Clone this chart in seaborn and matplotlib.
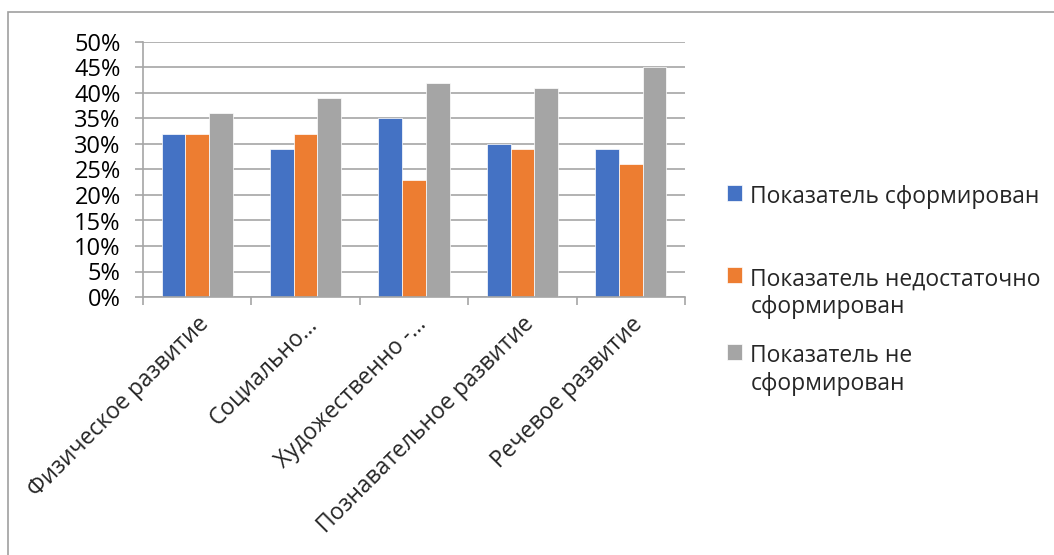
import textwrap
import pandas as pd
import matplotlib
matplotlib.use("Agg")
import matplotlib.pyplot as plt
import matplotlib.patches as mpatches
from matplotlib.ticker import PercentFormatter, MultipleLocator, FixedLocator
import seaborn as sns

# DATA
categories = ["Физическое развитие", "Социально…", "Художественно -…",
              "Познавательное развитие", "Речевое развитие"]
series = ["Показатель сформирован",
          "Показатель недостаточно сформирован",
          "Показатель не сформирован"]
formed = [32, 29, 35, 30, 29]
not_enough = [32, 32, 23, 29, 26]
not_formed = [36, 39, 42, 41, 45]

colors = ["#4472C4", "#ED7D31", "#A5A5A5"]
grid_gray = "#A6A6A6"

df = pd.DataFrame({
    "category": categories * 3,
    "series": [series[0]] * 5 + [series[1]] * 5 + [series[2]] * 5,
    "value": formed + not_enough + not_formed,
})

# STYLE & FONT
sns.set_style("white")
plt.rcParams["font.family"] = ["Open Sans", "DejaVu Sans"]
fs = 16.5

fig = plt.figure(figsize=(10.54, 5.55), dpi=100)
ax = fig.add_axes([143 / 1054, 1 - 297 / 555, (685 - 143) / 1054, (297 - 42) / 555])

sns.barplot(data=df, x="category", y="value", hue="series", palette=colors,
            saturation=1, width=0.655, edgecolor="white", linewidth=0.5, ax=ax)

ax.set_ylim(0, 50)
ax.set_xlim(-0.5, len(categories) - 0.5)
ax.yaxis.set_major_locator(MultipleLocator(5))
ax.yaxis.set_major_formatter(PercentFormatter(decimals=0))
ax.grid(axis="y", color=grid_gray, linewidth=1.2)
ax.set_axisbelow(True)
ax.set_xlabel("")
ax.set_ylabel("")

for side in ["top", "right"]:
    ax.spines[side].set_visible(False)
for side in ["left", "bottom"]:
    ax.spines[side].set_color(grid_gray)
    ax.spines[side].set_linewidth(1.2)

ax.tick_params(axis="y", which="major", length=6, width=1.2, color=grid_gray,
               pad=10, labelsize=17, labelcolor="black", left=True)
ax.xaxis.set_minor_locator(FixedLocator([i - 0.5 for i in range(len(categories) + 1)]))
ax.tick_params(axis="x", which="minor", length=6, width=1.2, color=grid_gray, bottom=True)
ax.tick_params(axis="x", which="major", length=0, pad=11, labelsize=fs)
for lbl in ax.get_xticklabels():
    lbl.set_rotation(45)
    lbl.set_ha("right")
    lbl.set_rotation_mode("anchor")

# legend: one entry per block, like the original layout
handles, labels = ax.get_legend_handles_labels()
ax.get_legend().remove()
tops = [174, 256, 333]
for h, lab, top in zip(handles, labels, tops):
    leg = fig.legend([h], [textwrap.fill(lab, 24)], loc="upper left",
                     bbox_to_anchor=(716 / 1054, 1 - top / 555), frameon=False,
                     borderpad=0, handlelength=0.65, handleheight=0.65,
                     handletextpad=0.35, fontsize=fs)
    # square next to the first line of the label
    for row in leg._legend_handle_box.get_children():
        for item in row.get_children():
            item.align = "top"

# outer chart border
fig.patches.append(mpatches.Rectangle((8 / 1054, -0.05), 1.1, 1 - 12 / 555 + 0.05,
                                      transform=fig.transFigure, fill=False,
                                      edgecolor="#A0A0A0", linewidth=1.2))

fig.savefig("out.png", dpi=100)
